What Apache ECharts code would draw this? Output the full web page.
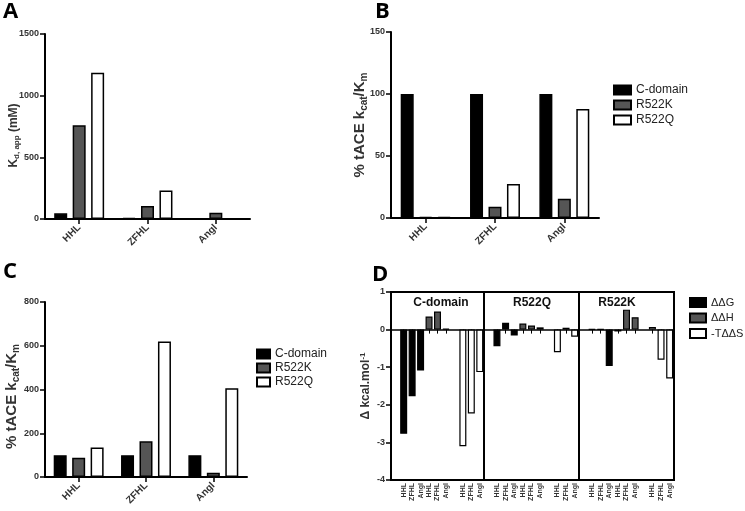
<!DOCTYPE html>
<html><head><meta charset="utf-8">
<script src="https://cdn.jsdelivr.net/npm/echarts@6/dist/echarts.min.js"></script>
<style>html,body{margin:0;padding:0;background:#fff}#c{width:745px;height:511px}</style>
</head><body><div id="c"></div>
<script>
// ---------- data ----------
const substrates = ['HHL', 'ZFHL', 'Angl'];
const enzymes = ['C-domain', 'R522K', 'R522Q'];
// Panel A : Kd,app (mM)
const kdCdomain = [46, 8, null];
const kdR522K = [760, 105, 51];
const kdR522Q = [1186, 232, null];
// Panel B : % tACE kcat/Km
const pctB_Cdomain = [100, 100, 100];
const pctB_R522K = [0.8, 9, 15.6];
const pctB_R522Q = [0.8, 27.4, 88];
// Panel C : % tACE kcat/Km
const pctC_Cdomain = [100, 100, 100];
const pctC_R522K = [88, 163, 20];
const pctC_R522Q = [135, 620, 406];
// Panel D : thermodynamics (kcal/mol)
const dPanels = ['C-domain', 'R522Q', 'R522K'];
const thermoNames = ['ΔΔG', 'ΔΔH', '-TΔΔS'];
const cdomDG = [-2.77, -1.77, -1.09], cdomDH = [0.35, 0.48, 0.02], cdomTDS = [-3.1, -2.23, -1.13];
const qDG = [-0.44, 0.18, -0.16], qDH = [0.16, 0.11, 0.06], qTDS = [-0.6, 0.05, -0.19];
const kDG = [0.01, 0.01, -0.97], kDH = [-0.05, 0.53, 0.33], kTDS = [0.07, -0.8, -1.3];

// ---------- styles ----------
const FONT = 'Liberation Sans';
const fills = ['#000000', '#555555', '#ffffff'];
const txt = '#333333';

const chart = echarts.init(document.getElementById('c'), null, {renderer: 'canvas'});

const grids = [
  {left: 45, top: 34, width: 205, height: 185},   // A
  {left: 391, top: 32, width: 208, height: 186},  // B
  {left: 45, top: 302, width: 202, height: 175},  // C
  {left: 391, top: 292, width: 93, height: 188},  // D1
  {left: 484, top: 292, width: 95, height: 188},  // D2
  {left: 579, top: 292, width: 95, height: 188}   // D3
].map((g, i) => Object.assign({outerBoundsMode: 'none', containLabel: false}, g,
  i >= 3 ? {show: true, borderColor: '#000', borderWidth: 2, backgroundColor: 'transparent'} : {}));

const axisLine = {show: true, lineStyle: {color: '#000', width: 2}};
const axisTick = {show: true, length: 5, lineStyle: {color: '#000', width: 1.5}};

function catAxis(gi) {
  return {type: 'category', gridIndex: gi, data: substrates, position: 'bottom',
    axisLine, axisTick: Object.assign({alignWithLabel: true}, axisTick),
    axisLabel: {rotate: 45, margin: 7, fontFamily: FONT, fontWeight: 'bold', fontSize: 10, color: txt}};
}
function valAxis(gi, min, max, interval, name, nameGap, fs, shift) {
  return {type: 'value', gridIndex: gi, min, max, interval, splitLine: {show: false},
    axisLine, axisTick,
    axisLabel: {margin: 6, fontFamily: FONT, fontWeight: 'bold', fontSize: 9, color: txt,
      formatter: v => String(v)},
    name, nameLocation: 'middle', nameGap, nameMoveOverlap: false,
    nameTextStyle: {fontFamily: FONT, fontWeight: 'bold', fontSize: fs, color: txt,
      padding: [0, shift, 0, 0],
      rich: {
        b: {fontFamily: FONT, fontWeight: 'bold', fontSize: fs, color: txt},
        s: {fontFamily: FONT, fontWeight: 'bold', fontSize: Math.round(fs * 0.68), color: txt, verticalAlign: 'bottom', padding: [Math.round(fs / 2), 0, 0, 0]},
        p: {fontFamily: FONT, fontWeight: 'bold', fontSize: Math.round(fs * 0.68), color: txt, verticalAlign: 'top', padding: [0, 0, Math.round(fs / 2), 0]}
      }}};
}

const xAxes = [catAxis(0), catAxis(1), catAxis(2)];
const yAxes = [
  valAxis(0, 0, 1500, 500, '{b|K}{s|d, app}{b| (mM)}', 24, 12, 18),
  valAxis(1, 0, 150, 50, '{b|% tACE k}{s|cat}{b|/K}{s|m}', 22, 15, 0),
  valAxis(2, 0, 800, 200, '{b|% tACE k}{s|cat}{b|/K}{s|m}', 24, 15, 14)
];

// Panel D category slots
const slotGroup = [null, 0, 0, 0, 1, 1, 1, null, 2, 2, 2];
const slotSub = [null, 0, 1, 2, 0, 1, 2, null, 0, 1, 2];
const dCats = slotGroup.map((g, i) => g === null ? 'gap' + i : g + '|' + substrates[slotSub[i]]);
const dData = [[cdomDG, cdomDH, cdomTDS], [qDG, qDH, qTDS], [kDG, kDH, kTDS]];

const series = [];
function addGroup(xi, yi, arrays, names) {
  arrays.forEach((arr, k) => series.push({
    type: 'bar', name: names[k], xAxisIndex: xi, yAxisIndex: yi, data: arr,
    barWidth: 13, barGap: '42%',
    itemStyle: {color: fills[k], borderColor: '#000', borderWidth: 1.5}
  }));
}
addGroup(0, 0, [kdCdomain, kdR522K, kdR522Q], enzymes);
addGroup(1, 1, [pctB_Cdomain, pctB_R522K, pctB_R522Q], enzymes);
addGroup(2, 2, [pctC_Cdomain, pctC_R522K, pctC_R522Q], enzymes);

for (let p = 0; p < 3; p++) {
  const gi = 3 + p;
  // zero line axis (ticks, no labels)
  xAxes.push({type: 'category', gridIndex: gi, data: dCats, position: 'bottom',
    axisLine: {show: true, onZero: true, lineStyle: {color: '#000', width: 1.5}},
    axisTick: {show: true, alignWithLabel: true, length: 4, interval: (i, v) => v.indexOf('|') > 0,
      lineStyle: {color: '#000', width: 1}},
    axisLabel: {show: false}});
  const labelAxisIndex = xAxes.length;
  xAxes.push({type: 'category', gridIndex: gi, data: dCats, position: 'bottom',
    axisLine: {show: false, onZero: false}, axisTick: {show: false},
    axisLabel: {show: true, interval: 0, rotate: 90, margin: 3, fontFamily: FONT, fontWeight: 'bold',
      fontSize: 7, color: txt, formatter: v => v.indexOf('|') > 0 ? v.split('|')[1] : ''}});
  const yi = yAxes.length;
  if (p === 0) {
    const ax = valAxis(gi, -4, 1, 1, '{b|Δ kcal.mol}{p|-1}', 18, 12, 0);
    ax.axisLine = {show: true, onZero: false, lineStyle: {color: '#000', width: 2}};
    yAxes.push(ax);
  } else {
    yAxes.push({type: 'value', gridIndex: gi, min: -4, max: 1, interval: 1, show: false, splitLine: {show: false}});
  }
  for (let t = 0; t < 3; t++) {
    series.push({
      type: 'bar', name: thermoNames[t], xAxisIndex: labelAxisIndex, yAxisIndex: yi,
      data: slotGroup.map((g, i) => g === t ? dData[p][t][slotSub[i]] : '-'),
      barWidth: 7, barGap: '-100%',
      itemStyle: {color: fills[t], borderColor: '#000', borderWidth: 1.2}
    });
  }
}

const legendText = {fontFamily: FONT, fontSize: 12, color: '#222'};
const titleCenters = [441, 532, 617];
const option = {
  animation: false,
  backgroundColor: '#fff',
  grid: grids,
  xAxis: xAxes,
  yAxis: yAxes,
  series,
  legend: [
    {data: enzymes, orient: 'vertical', left: 613, top: 84, padding: 0, icon: 'rect', itemWidth: 17, itemHeight: 9,
      itemGap: 3, textStyle: legendText, selectedMode: false},
    {data: enzymes, orient: 'vertical', left: 256, top: 348, padding: 0, icon: 'rect', itemWidth: 13, itemHeight: 9,
      itemGap: 2, textStyle: legendText, selectedMode: false},
    {data: thermoNames, orient: 'vertical', left: 689, top: 297, padding: 0, icon: 'rect', itemWidth: 16, itemHeight: 9,
      itemGap: 4.5, textStyle: {fontFamily: FONT, fontSize: 11, color: '#222'}, selectedMode: false}
  ],
  graphic: [
    {type: 'text', left: 3, top: 1, style: {text: 'A', font: 'bold 22px "Open Sans"', fill: '#000'}},
    {type: 'text', left: 375, top: 1, style: {text: 'B', font: 'bold 22px "Open Sans"', fill: '#000'}},
    {type: 'text', left: 3, top: 261, style: {text: 'C', font: 'bold 22px "Open Sans"', fill: '#000'}},
    {type: 'text', left: 372, top: 264, style: {text: 'D', font: 'bold 22px "Open Sans"', fill: '#000'}}
  ].concat(dPanels.map((nm, p) => ({
    type: 'text',
    style: {x: titleCenters[p], y: 303, text: nm, font: 'bold 12px "Liberation Sans"', fill: '#111',
      textAlign: 'center', textVerticalAlign: 'middle'}
  })))
};
chart.setOption(option);
</script>
</body></html>
